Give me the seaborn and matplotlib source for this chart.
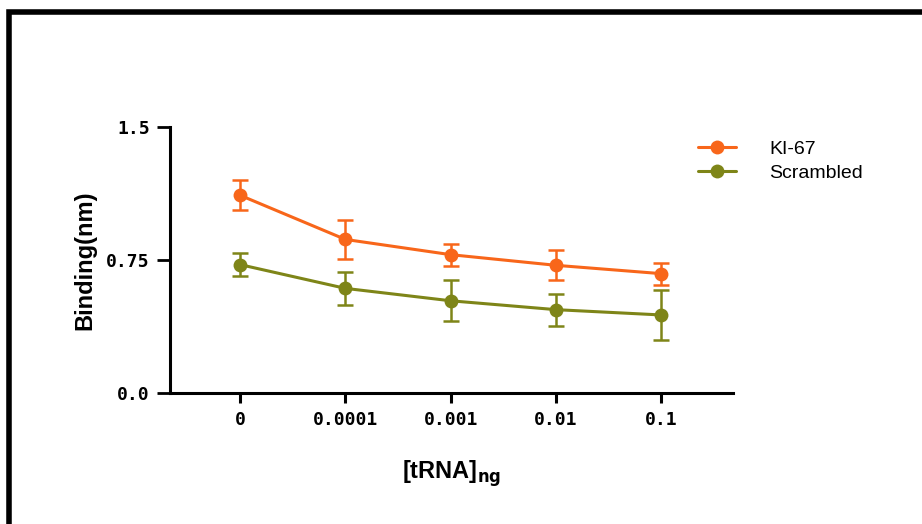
import matplotlib
matplotlib.use("Agg")
import matplotlib.pyplot as plt
from matplotlib.lines import Line2D
from matplotlib.patches import Rectangle
import numpy as np
import pandas as pd
import seaborn as sns

# data
doses = ["0", "0.0001", "0.001", "0.01", "0.1"]
ki67 = [1.115, 0.866, 0.78, 0.72, 0.673]
ki67_err = [0.085, 0.11, 0.062, 0.085, 0.062]
scrambled = [0.724, 0.59, 0.52, 0.47, 0.44]
scrambled_err = [0.065, 0.095, 0.115, 0.09, 0.14]
series = ["KI-67", "Scrambled"]
colors = ["#F8661A", "#7E8518"]

df = pd.DataFrame({
    "dose": doses * 2,
    "binding": ki67 + scrambled,
    "err": ki67_err + scrambled_err,
    "series": [series[0]] * 5 + [series[1]] * 5,
})

sns.set_style("white")
plt.rcParams.update({"text.color": "black", "axes.labelcolor": "black",
                     "xtick.color": "black", "ytick.color": "black"})
fig = plt.figure(figsize=(9.22, 5.24), dpi=100)
ax = fig.add_axes([170 / 922, 1 - 393 / 524, (733 - 170) / 922, (393 - 127) / 524])

sns.lineplot(data=df, x="dose", y="binding", hue="series", palette=colors,
             marker="o", markersize=10, markeredgewidth=0, linewidth=2.2,
             sort=False, legend=False, ax=ax)
for name, col in zip(series, colors):
    sub = df[df["series"] == name]
    ax.errorbar(sub["dose"], sub["binding"], yerr=sub["err"], fmt="none",
                ecolor=col, elinewidth=1.8, capsize=6, capthick=1.8, zorder=1)

ax.set_xlim(-0.665, 4.68)
ax.set_ylim(0, 1.5)
ax.set_yticks([0, 0.75, 1.5])
ax.set_yticklabels(["0.0", "0.75", "1.5"])
for s in ["top", "right"]:
    ax.spines[s].set_visible(False)
for s in ["left", "bottom"]:
    ax.spines[s].set_linewidth(2.2)
    ax.spines[s].set_color("black")
ax.tick_params(axis="y", length=9.5, width=2, pad=5, left=True)
ax.tick_params(axis="x", length=7, width=2.2, pad=6, bottom=True)
for lab in ax.get_xticklabels() + ax.get_yticklabels():
    lab.set_family(["DejaVu Sans Mono", "DejaVu Sans"])
    lab.set_fontweight("bold")
    lab.set_fontsize(13)

ax.set_xlabel(r"[tRNA]$_{\mathbf{ng}}$", fontsize=17, fontweight="bold",
              family=["Liberation Sans", "DejaVu Sans"], labelpad=21)
ax.set_ylabel("Binding(nm)", fontsize=17, fontweight="bold",
              family=["Liberation Sans Narrow", "Liberation Sans", "DejaVu Sans"])
ax.yaxis.set_label_coords(-0.13, 0.5)

handles = [Line2D([], [], color=c, marker="o", markersize=10, markeredgewidth=0,
                  linewidth=2.2) for c in colors]
fig.legend(handles, series, loc="upper left", bbox_to_anchor=(680 / 922, 1 - 123 / 524),
           frameon=False, handlelength=2.0, handletextpad=1.7, labelspacing=0.3,
           prop={"family": ["Liberation Sans", "DejaVu Sans"], "size": 14})

# thick black frame around the picture (right and bottom edges cut off)
fig.patches.append(Rectangle((9 / 922, -0.1), 1.2, 1.1 - 12 / 524, transform=fig.transFigure,
                             fill=False, edgecolor="black", linewidth=4, zorder=10))

fig.savefig("out.png", dpi=100, facecolor="white")
